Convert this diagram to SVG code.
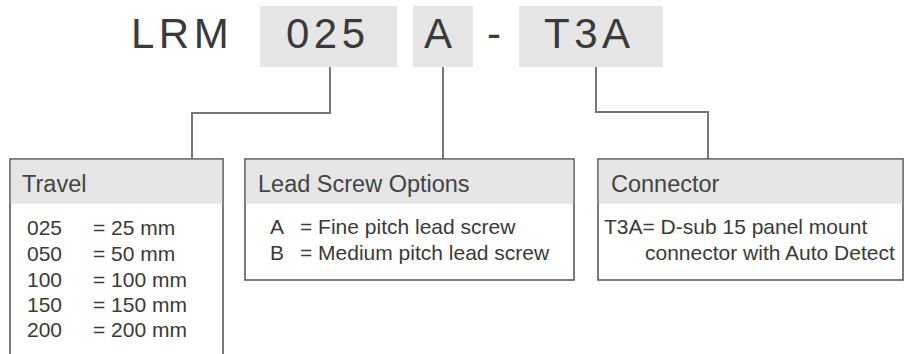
<svg xmlns="http://www.w3.org/2000/svg" width="906" height="354" viewBox="0 0 906 354">
<style>
.code{font-family:"Liberation Sans",Arial,sans-serif;font-size:42px;fill:#3a3a3a;letter-spacing:4.5px}
.cbox{fill:#e6e6e6}
.frame{fill:#fff;stroke:#5a5a5a;stroke-width:1.6}
.hdr{fill:#e6e6e6}
.ht{font-family:"Liberation Sans",Arial,sans-serif;font-size:23.5px;fill:#444}
.bt{font-family:"Liberation Sans",Arial,sans-serif;font-size:21px;fill:#3a3a3a}
.conn{fill:none;stroke:#777;stroke-width:2}
</style>
<rect width="906" height="354" fill="#fff"/>
<g id="code">
<text class="code" x="131" y="48">LRM</text>
<rect class="cbox" x="260" y="6" width="137" height="61"/>
<text class="code" x="286" y="48">025</text>
<rect class="cbox" x="413" y="6" width="60" height="61"/>
<text class="code" x="424" y="48">A</text>
<text class="code" x="487" y="48">-</text>
<rect class="cbox" x="519" y="6" width="144" height="61"/>
<text class="code" x="544" y="48">T3A</text>
</g>
<g id="connectors">
<polyline class="conn" points="330,67 330,113 192,113 192,159"/>
<polyline class="conn" points="443,67 443,159"/>
<polyline class="conn" points="596,67 596,112 708,112 708,159"/>
</g>
<g id="travel">
<rect class="frame" x="10" y="159" width="213" height="210"/>
<rect class="hdr" x="10.8" y="159.8" width="211.4" height="44"/>
<text class="ht" x="22" y="192">Travel</text>
<text class="bt" x="27" y="235">025</text><text class="bt" x="93" y="235">= 25 mm</text>
<text class="bt" x="27" y="261">050</text><text class="bt" x="93" y="261">= 50 mm</text>
<text class="bt" x="27" y="287">100</text><text class="bt" x="93" y="287">= 100 mm</text>
<text class="bt" x="27" y="312">150</text><text class="bt" x="93" y="312">= 150 mm</text>
<text class="bt" x="27" y="337">200</text><text class="bt" x="93" y="337">= 200 mm</text>
</g>
<g id="leadscrew">
<rect class="frame" x="245" y="159" width="329" height="121"/>
<rect class="hdr" x="245.8" y="159.8" width="327.4" height="44"/>
<text class="ht" x="258" y="192">Lead Screw Options</text>
<text class="bt" x="270" y="234">A</text><text class="bt" x="300" y="234">= Fine pitch lead screw</text>
<text class="bt" x="270" y="260">B</text><text class="bt" x="300" y="260">= Medium pitch lead screw</text>
</g>
<g id="connector">
<rect class="frame" x="598" y="159" width="305" height="121"/>
<rect class="hdr" x="598.8" y="159.8" width="303.4" height="44"/>
<text class="ht" x="611" y="192">Connector</text>
<text class="bt" x="604" y="234">T3A= D-sub 15 panel mount</text>
<text class="bt" x="645" y="260">connector with Auto Detect</text>
</g>
</svg>
